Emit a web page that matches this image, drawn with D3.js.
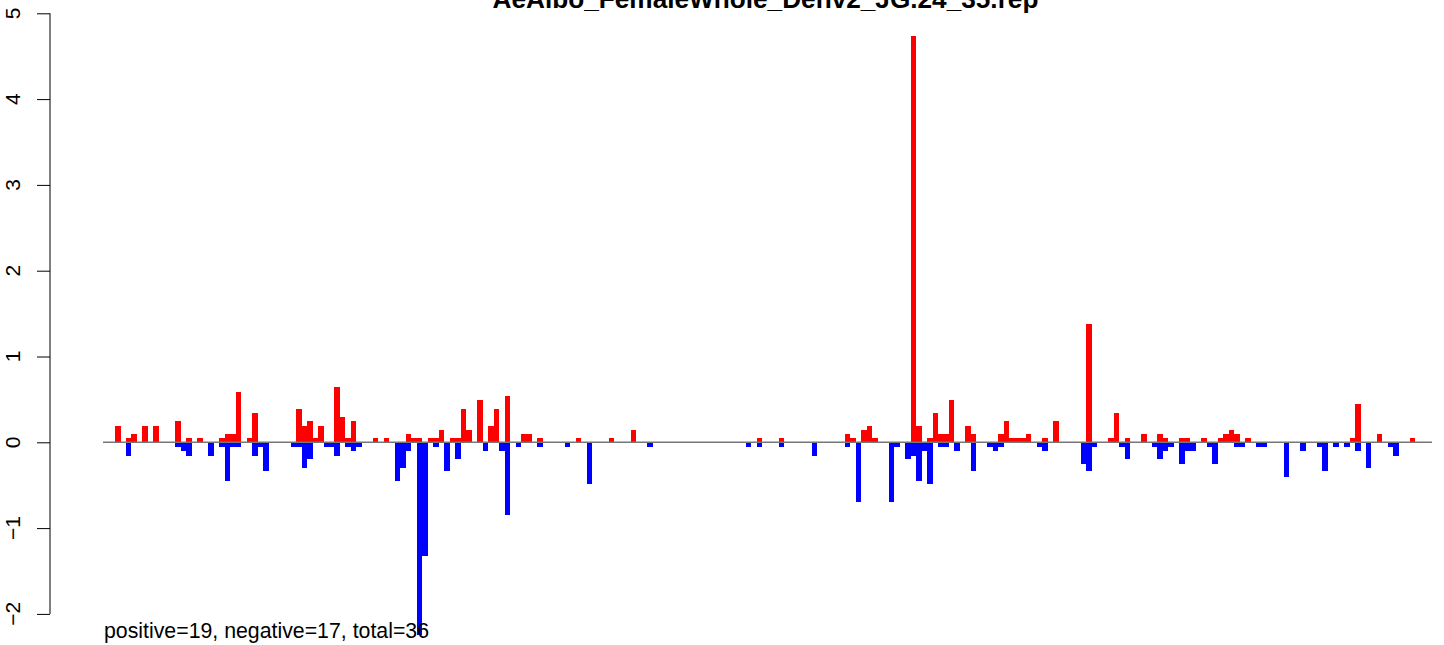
<!DOCTYPE html>
<html>
<head>
<meta charset="utf-8">
<script src="https://cdn.jsdelivr.net/npm/d3@7"></script>
<style>
  html, body { margin: 0; padding: 0; background: #fff; }
  svg { display: block; }
  text { font-family: "Liberation Sans", Arial, Helvetica, sans-serif; }
</style>
</head>
<body>
<svg id="chart" width="1444" height="645"></svg>
<script>
// ---- data ----
const title = "AeAlbo_FemaleWhole_Denv2_JG.24_35.rep";
const footer = "positive=19, negative=17, total=36";
const yTicks = [-2, -1, 0, 1, 2, 3, 4, 5];

const redIdx = [0, 2, 3, 5, 7, 11, 13, 15, 19, 20, 21, 22, 24, 25, 33, 34, 35, 36, 37, 40,
  41, 42, 43, 47, 49, 53, 54, 55, 57, 58, 59, 61, 62, 63, 64, 66, 68, 69, 71, 74,
  75, 77, 84, 90, 94, 117, 121, 133, 134, 136, 137, 138, 145, 146, 148, 149, 150, 151, 152, 155,
  156, 161, 162, 163, 164, 165, 166, 169, 171, 177, 181, 182, 184, 187, 190, 191, 194, 195, 198, 201,
  202, 203, 204, 206, 225, 226, 230, 236];
const redVal = [0.19, 0.05, 0.1, 0.19, 0.19, 0.25, 0.05, 0.05, 0.05, 0.1, 0.1, 0.59, 0.05, 0.34, 0.39, 0.19, 0.25, 0.05, 0.19, 0.645,
  0.295, 0.05, 0.25, 0.05, 0.05, 0.1, 0.05, 0.05, 0.05, 0.05, 0.145, 0.05, 0.05, 0.39, 0.145, 0.49, 0.19, 0.39, 0.54, 0.1,
  0.1, 0.05, 0.05, 0.05, 0.145, 0.05, 0.05, 0.1, 0.05, 0.145, 0.19, 0.05, 4.73, 0.19, 0.05, 0.34, 0.1, 0.1, 0.49, 0.19,
  0.1, 0.1, 0.25, 0.05, 0.05, 0.05, 0.1, 0.05, 0.25, 1.38, 0.05, 0.34, 0.05, 0.1, 0.1, 0.05, 0.05, 0.05, 0.05, 0.05,
  0.1, 0.145, 0.1, 0.05, 0.05, 0.45, 0.1, 0.05];

const blueIdx = [2, 11, 12, 13, 17, 19, 20, 21, 22, 25, 26, 27, 32, 33, 34, 35, 38, 39, 40, 42,
  43, 44, 51, 52, 53, 55, 56, 58, 60, 62, 67, 70, 71, 73, 77, 82, 86, 97, 115, 117,
  121, 127, 133, 135, 141, 142, 144, 145, 146, 147, 148, 150, 151, 153, 156, 159, 160, 161, 168, 169,
  176, 177, 178, 183, 184, 189, 190, 191, 192, 194, 195, 196, 199, 200, 204, 205, 208, 209, 213, 216,
  219, 220, 222, 224, 226, 228, 232, 233];
const blueVal = [-0.155, -0.05, -0.1, -0.155, -0.155, -0.05, -0.45, -0.05, -0.05, -0.155, -0.05, -0.34, -0.05, -0.05, -0.295, -0.2, -0.05, -0.05, -0.155, -0.05,
  -0.1, -0.05, -0.45, -0.3, -0.1, -2.25, -1.33, -0.05, -0.34, -0.2, -0.1, -0.1, -0.85, -0.05, -0.05, -0.05, -0.49, -0.05, -0.05, -0.05,
  -0.05, -0.155, -0.05, -0.69, -0.69, -0.05, -0.2, -0.155, -0.45, -0.1, -0.49, -0.05, -0.05, -0.1, -0.34, -0.05, -0.1, -0.05, -0.05, -0.1,
  -0.25, -0.34, -0.05, -0.05, -0.2, -0.05, -0.2, -0.1, -0.05, -0.25, -0.1, -0.1, -0.05, -0.25, -0.05, -0.05, -0.05, -0.05, -0.4, -0.1,
  -0.05, -0.34, -0.05, -0.05, -0.1, -0.295, -0.05, -0.155];

// ---- layout ----
const svg = d3.select("#chart");
svg.append("rect").attr("width", 1444).attr("height", 645).attr("fill", "#fff");

const x = d3.scaleLinear().domain([-2.19, 240.03]).range([103, 1432]);
const y = d3.scaleLinear().domain([-2, 5]).range([613.9, 13.3]);

const red = redIdx.map((k, i) => ({ k, v: redVal[i] }));
const blue = blueIdx.map((k, i) => ({ k, v: blueVal[i] }));

const bars = svg.append("g").attr("shape-rendering", "crispEdges");
bars.selectAll("rect.r").data(red).join("rect").attr("class", "r")
  .attr("x", d => x(d.k)).attr("width", d => x(d.k + 1) - x(d.k))
  .attr("y", d => y(d.v)).attr("height", d => y(0) - y(d.v))
  .attr("fill", "#ff0000");
bars.selectAll("rect.b").data(blue).join("rect").attr("class", "b")
  .attr("x", d => x(d.k)).attr("width", d => x(d.k + 1) - x(d.k))
  .attr("y", y(0)).attr("height", d => y(d.v) - y(0))
  .attr("fill", "#0000ff");

// baseline
svg.append("line")
  .attr("x1", x.range()[0]).attr("x2", x.range()[1])
  .attr("y1", y(0)).attr("y2", y(0))
  .attr("stroke", "#777").attr("stroke-width", 1.4);

// y axis
const axisX = 50;
const ax = svg.append("g").attr("transform", `translate(${axisX},0)`)
  .call(d3.axisLeft(y).tickValues(yTicks).tickSize(13).tickPadding(0).tickFormat(() => ""));
ax.select(".domain").attr("d", `M0,${y(-2)}V${y(5)}`).attr("stroke", "#000").attr("stroke-width", 1);
ax.selectAll(".tick line").attr("stroke", "#000").attr("stroke-width", 1);

svg.append("g").selectAll("text").data(yTicks).join("text")
  .attr("transform", d => `translate(20,${y(d)}) rotate(-90)`)
  .attr("text-anchor", "middle")
  .attr("font-size", 21)
  .attr("fill", "#000")
  .text(d => d < 0 ? "\u2212" + Math.abs(d) : String(d));

// title
svg.append("text")
  .attr("x", (x.range()[0] + x.range()[1]) / 2 - 2).attr("y", 7.5)
  .attr("text-anchor", "middle")
  .attr("font-size", 26.2).attr("font-weight", "bold")
  .attr("fill", "#000")
  .text(title);

// footer
svg.append("text")
  .attr("x", 104).attr("y", 637.5)
  .attr("font-size", 21.3).attr("fill", "#000")
  .text(footer);
</script>
</body>
</html>
